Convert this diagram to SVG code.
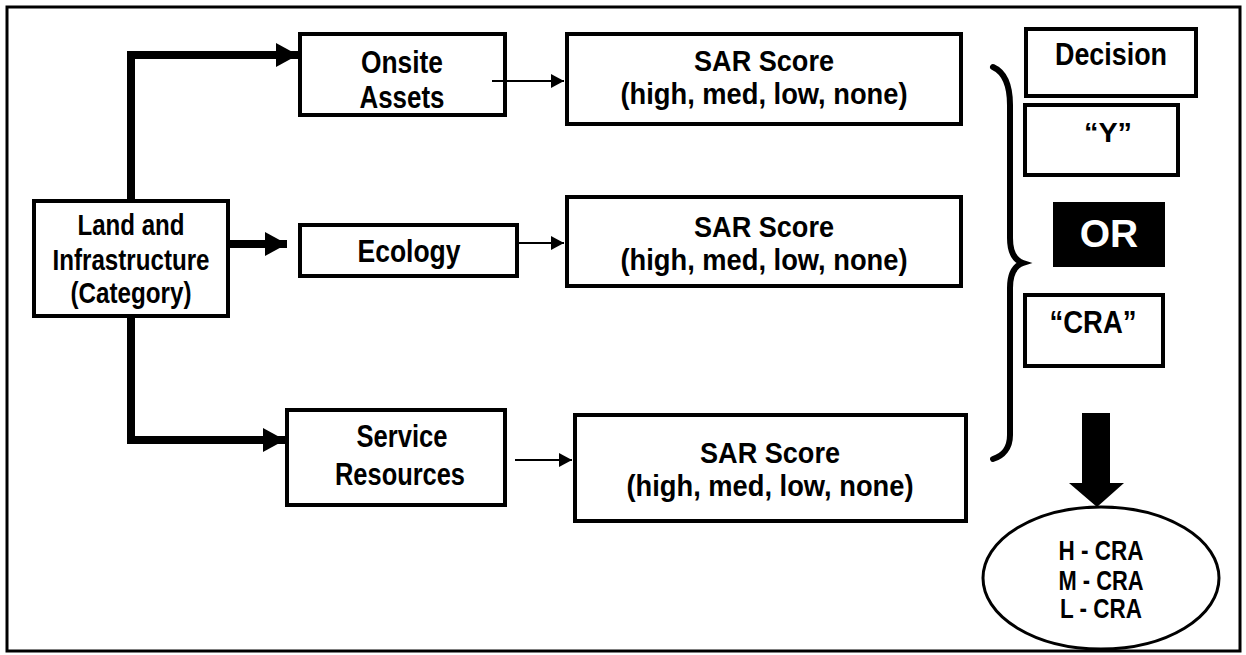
<svg xmlns="http://www.w3.org/2000/svg" width="1246" height="655" viewBox="0 0 1246 655">
<style>
.box{fill:#fff;stroke:#000;stroke-width:4}
.t{font-family:"Liberation Sans Narrow","Liberation Sans",Arial,sans-serif;font-weight:bold;font-size:31px;fill:#000;text-anchor:middle}
.l{font-size:30px}
.sar{font-size:30px}
.s{font-size:27px}
.thick{fill:none;stroke:#000;stroke-width:8}
.thin{fill:none;stroke:#000;stroke-width:2}
</style>
<defs>
<marker id="bh" markerUnits="userSpaceOnUse" markerWidth="24" markerHeight="26" refX="22" refY="12" orient="auto"><path d="M0,0 L22,12 L0,24 Z" fill="#000"/></marker>
<marker id="sh" markerUnits="userSpaceOnUse" markerWidth="14" markerHeight="16" refX="13" refY="7" orient="auto"><path d="M0,0 L13,7 L0,14 Z" fill="#000"/></marker>
</defs>
<rect x="0" y="0" width="1246" height="655" fill="#fff"/>
<rect x="7" y="7" width="1233" height="644" fill="none" stroke="#000" stroke-width="3"/>

<g id="land">
<rect class="box" x="34" y="201" width="194" height="115"/>
<text class="t l" x="131" y="235" textLength="107" lengthAdjust="spacingAndGlyphs">Land and</text>
<text class="t l" x="131" y="270" textLength="157" lengthAdjust="spacingAndGlyphs">Infrastructure</text>
<text class="t l" x="131" y="303" textLength="121" lengthAdjust="spacingAndGlyphs">(Category)</text>
</g>

<g id="onsite">
<rect class="box" x="300" y="34" width="205" height="81"/>
<text class="t" x="402" y="73" textLength="82" lengthAdjust="spacingAndGlyphs">Onsite</text>
<text class="t" x="402" y="108" textLength="85" lengthAdjust="spacingAndGlyphs">Assets</text>
</g>

<g id="ecology">
<rect class="box" x="300" y="225" width="217" height="51"/>
<text class="t" x="409" y="262" textLength="103" lengthAdjust="spacingAndGlyphs">Ecology</text>
</g>

<g id="service">
<rect class="box" x="287" y="410" width="218" height="95"/>
<text class="t" x="402" y="447" textLength="91" lengthAdjust="spacingAndGlyphs">Service</text>
<text class="t" x="400" y="485" textLength="130" lengthAdjust="spacingAndGlyphs">Resources</text>
</g>

<g id="sar1">
<rect class="box" x="567" y="34" width="394" height="90"/>
<text class="t sar" x="764" y="71" textLength="140" lengthAdjust="spacingAndGlyphs">SAR Score</text>
<text class="t sar" x="764" y="104" textLength="287" lengthAdjust="spacingAndGlyphs">(high, med, low, none)</text>
</g>

<g id="sar2">
<rect class="box" x="567" y="197" width="394" height="89"/>
<text class="t sar" x="764" y="237" textLength="140" lengthAdjust="spacingAndGlyphs">SAR Score</text>
<text class="t sar" x="764" y="270" textLength="287" lengthAdjust="spacingAndGlyphs">(high, med, low, none)</text>
</g>

<g id="sar3">
<rect class="box" x="575" y="415" width="391" height="106"/>
<text class="t sar" x="770" y="463" textLength="140" lengthAdjust="spacingAndGlyphs">SAR Score</text>
<text class="t sar" x="770" y="496" textLength="287" lengthAdjust="spacingAndGlyphs">(high, med, low, none)</text>
</g>

<g id="decision">
<rect class="box" x="1026" y="29" width="170" height="67" stroke-width="3"/>
<text class="t" x="1111" y="65" textLength="112" lengthAdjust="spacingAndGlyphs">Decision</text>
</g>

<g id="yes">
<rect class="box" x="1025" y="105" width="153" height="70"/>
<text class="t s" x="1108" y="142" textLength="48" lengthAdjust="spacingAndGlyphs">“Y”</text>
</g>

<g id="or">
<rect x="1053" y="202" width="112" height="65" fill="#000"/>
<text x="1109" y="247" font-family="'Liberation Sans',Arial,sans-serif" font-weight="bold" font-size="39" fill="#fff" text-anchor="middle">OR</text>
</g>

<g id="cra">
<rect class="box" x="1025" y="295" width="138" height="71"/>
<text class="t" x="1093" y="333" textLength="87" lengthAdjust="spacingAndGlyphs">“CRA”</text>
</g>

<g id="levels">
<ellipse cx="1101" cy="578" rx="118" ry="71" fill="#fff" stroke="#000" stroke-width="3"/>
<text class="t s" x="1101" y="560" textLength="85" lengthAdjust="spacingAndGlyphs">H - CRA</text>
<text class="t s" x="1101" y="590" textLength="85" lengthAdjust="spacingAndGlyphs">M - CRA</text>
<text class="t s" x="1101" y="618" textLength="82" lengthAdjust="spacingAndGlyphs">L - CRA</text>
</g>

<g id="connectors">
<path class="thick" d="M131,199 V55 H298" marker-end="url(#bh)"/>
<path class="thick" d="M230,244 H287" marker-end="url(#bh)"/>
<path class="thick" d="M131,318 V440 H285" marker-end="url(#bh)"/>
<path class="thin" d="M492,81 H564" marker-end="url(#sh)"/>
<path class="thin" d="M519,243 H564" marker-end="url(#sh)"/>
<path class="thin" d="M515,460 H572" marker-end="url(#sh)"/>
<path d="M993,67 C1004,72 1010,85 1010,105 V238 C1010,252 1014,260 1023,263 C1014,266 1010,274 1010,288 V435 C1010,448 1003,456 993,459" fill="none" stroke="#000" stroke-width="6" stroke-linecap="round"/>
<polygon points="1082,413 1110,413 1110,483 1124,483 1097,507 1069,483 1082,483" fill="#000"/>
</g>
</svg>
